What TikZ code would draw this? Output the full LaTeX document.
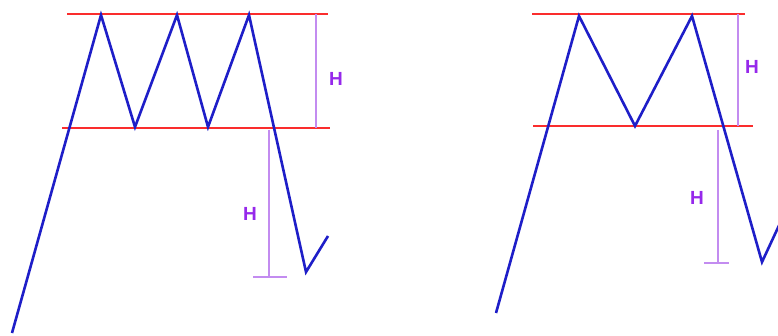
\documentclass[tikz,border=0pt]{standalone}
\usepackage{fontspec}
\setsansfont{Liberation Sans}
\definecolor{priceblue}{RGB}{30,30,200}
\definecolor{levelred}{RGB}{250,45,45}
\definecolor{measure}{RGB}{195,140,240}
\definecolor{hlabel}{RGB}{150,40,235}
\begin{document}
\begin{tikzpicture}[x=1pt,y=-1pt,
  price/.style={draw=priceblue,line width=2.6pt,line join=miter},
  level/.style={draw=levelred,line width=2.6pt},
  meas/.style={draw=measure,line width=1.2pt},
  hlab/.style={text=hlabel,font=\sffamily\bfseries\fontsize{19}{19}\selectfont,inner sep=0pt}]
\fill[white] (0,0) rectangle (778,336);
\useasboundingbox (0,0) rectangle (778,336);
\clip (0,0) rectangle (778,336);
% ---------- left: triple top ----------
\coordinate (a0) at (12,333);
\coordinate (a1) at (101,15);
\coordinate (a2) at (135,127);
\coordinate (a3) at (177,15);
\coordinate (a4) at (208,127);
\coordinate (a5) at (249,15);
\coordinate (a6) at (306,272);
\coordinate (a7) at (328,236);
\coordinate (lt1) at (67,14);
\coordinate (lt2) at (328,14);
\coordinate (lb1) at (62,128);
\coordinate (lb2) at (330,128);
\coordinate (lm1) at (316,14);
\coordinate (lm2) at (316,128);
\coordinate (ln1) at (269,130);
\coordinate (ln2) at (269,277);
\coordinate (lk1) at (253,277);
\coordinate (lk2) at (287,277);
\draw[level] (lt1) -- (lt2);
\draw[level] (lb1) -- (lb2);
\draw[meas] (lm1) -- (lm2);
\draw[meas] (ln1) -- (ln2);
\draw[meas] (lk1) -- (lk2);
\draw[price] (a0) -- (a1) -- (a2) -- (a3) -- (a4) -- (a5) -- (a6) -- (a7);
\node[hlab] (lh1) at (336,79) {H};
\node[hlab] (lh2) at (250,214) {H};
% ---------- right: double top ----------
\coordinate (b0) at (496,313);
\coordinate (b1) at (579,16);
\coordinate (b2) at (635,126);
\coordinate (b3) at (692,16);
\coordinate (b4) at (762,262);
\coordinate (b5) at (782,219);
\coordinate (rt1) at (532,14);
\coordinate (rt2) at (745,14);
\coordinate (rb1) at (533,126);
\coordinate (rb2) at (753,126);
\coordinate (rm1) at (738,14);
\coordinate (rm2) at (738,126);
\coordinate (rn1) at (718,130);
\coordinate (rn2) at (718,263);
\coordinate (rk1) at (704,263);
\coordinate (rk2) at (729,263);
\draw[level] (rt1) -- (rt2);
\draw[level] (rb1) -- (rb2);
\draw[meas] (rm1) -- (rm2);
\draw[meas] (rn1) -- (rn2);
\draw[meas] (rk1) -- (rk2);
\draw[price] (b0) -- (b1) -- (b2) -- (b3) -- (b4) -- (b5);
\node[hlab] (rh1) at (752,67) {H};
\node[hlab] (rh2) at (697,198) {H};
\end{tikzpicture}
\end{document}
